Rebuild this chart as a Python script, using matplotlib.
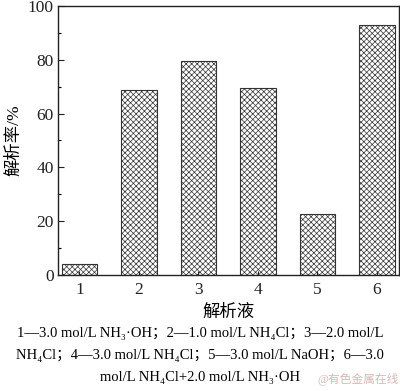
import matplotlib
matplotlib.use("Agg")
import matplotlib.pyplot as plt

plt.rcParams['font.family'] = ['Liberation Serif', 'Noto Sans CJK SC', 'DejaVu Sans']
plt.rcParams['hatch.linewidth'] = 0.5
plt.rcParams['hatch.color'] = '#8a8a8a'

categories = [1, 2, 3, 4, 5, 6]
values = [4.2, 68.7, 79.5, 69.5, 22.5, 92.8]
yticks = [0, 20, 40, 60, 80, 100]
ylabel = "解析率/%"
xlabel = "解析液"
caption = ["1—3.0 mol/L NH₃·OH；2—1.0 mol/L NH₄Cl；3—2.0 mol/L",
           "NH₄Cl；4—3.0 mol/L NH₄Cl；5—3.0 mol/L NaOH；6—3.0",
           "mol/L NH₄Cl+2.0 mol/L NH₃·OH"]
watermark = "@有色金属在线"

fig = plt.figure(figsize=(4.0, 3.91), dpi=100)
ax = fig.add_axes([0.145, 0.2967, 0.8525, 0.688])
ax.bar(categories, values, width=0.6, facecolor='white', edgecolor='#333333',
       linewidth=0.8, hatch='xxxxxx')
ax.set_xlim(0.64, 6.37)
ax.set_ylim(0, 100)
ax.set_yticks(yticks)
ax.set_yticks(range(10, 100, 20), minor=True)
ax.set_xticks(categories)
ax.tick_params(axis='both', direction='in', labelsize=12.5, width=0.8, colors='#222222')
ax.tick_params(axis='y', which='major', length=4, pad=3)
ax.tick_params(axis='y', which='minor', length=2, direction='in', width=0.8)
ax.tick_params(axis='x', length=3, pad=5)
for s in ax.spines.values():
    s.set_linewidth(1.0)
    s.set_color('#222222')
ax.set_ylabel(ylabel, fontsize=12.5, labelpad=4)
fig.text(0.571, 1 - 313/391, xlabel, ha='center', va='center', fontsize=12.5)
ys = [333, 355, 378]
for line, y in zip(caption, ys):
    fig.text(0.5, 1 - y/391, line, ha='center', va='center', fontsize=10.5)
fig.text(0.998, 1 - 380/391, watermark, ha='right', va='center', fontsize=8.5,
         color='#d8b8b8')
fig.savefig("out.png", dpi=100)
